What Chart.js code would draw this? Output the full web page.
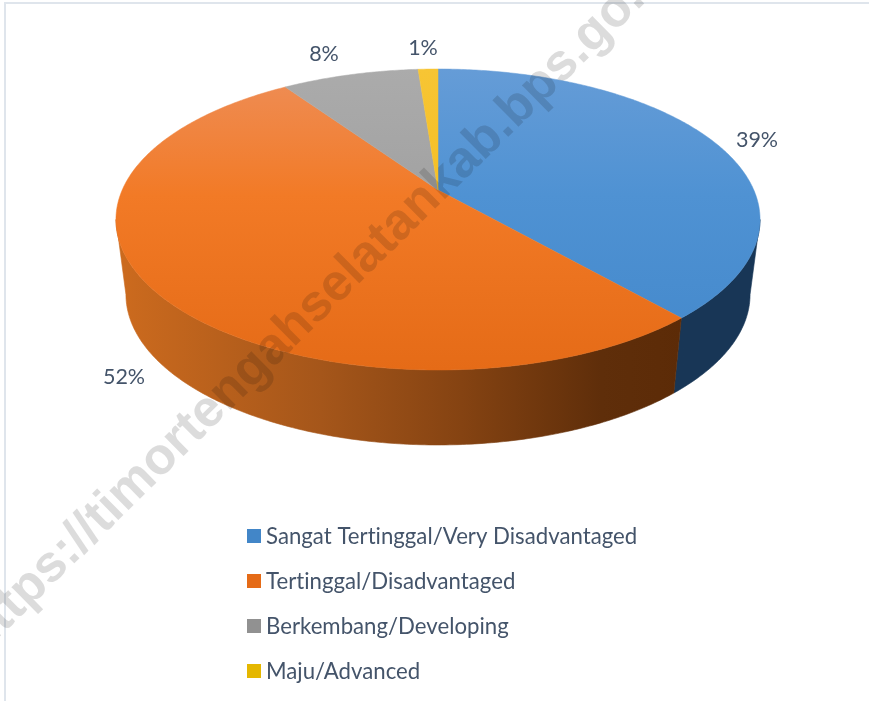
<!DOCTYPE html>
<html>
<head>
<meta charset="utf-8">
<style>
  html, body { margin: 0; padding: 0; background: #fff; }
  canvas { display: block; }
</style>
<script src="https://cdn.jsdelivr.net/npm/chart.js@4"></script>
</head>
<body>
<canvas id="pieChart" width="869" height="701"></canvas>
<script>
const categories = [
  "Sangat Tertinggal/Very Disadvantaged",
  "Tertinggal/Disadvantaged",
  "Berkembang/Developing",
  "Maju/Advanced"
];
const shares = [38.6, 51.9, 8.3, 1.2];

const legendColors = ["#4286c8", "#e56b17", "#919191", "#e5b700"];
const topStops = [
  ["#659cd7", "#4f92d3", "#4388cb"],
  ["#ee8e58", "#f27a26", "#e56b17"],
  ["#ababab", "#a2a2a2", "#9a9a9a"],
  ["#f7c534", "#f5bf25", "#f0b910"]
];
const wallStops = [
  [[0, "#1b3f63"], [1, "#183656"]],
  [[0, "#cb6a1e"], [0.35, "#a5561a"], [0.6, "#854312"], [0.85, "#5f2e0a"], [1, "#5c2b07"]],
  [[0, "#666666"], [1, "#666666"]],
  [[0, "#a57f00"], [1, "#a57f00"]]
];
const labelPlaces = [[757, 140], [124, 377], [324, 54], [423, 48]];
const legendRows = [536, 581, 626, 671];

// perspective of the tilted disc, fitted to the picture
const CX = 438, CY = 190, KV = 0.196, AX = 315.8, BY = 144.7;
const DEPTH = 75, BOTTOM_SCALE = 0.969;

function project(angle, lower) {
  const u = Math.cos(angle), v = Math.sin(angle), d = 1 - KV * v;
  return {
    x: CX + (lower ? AX * BOTTOM_SCALE : AX) * u / d,
    y: CY + (lower ? DEPTH : 0) + BY * v / d
  };
}

function traceArc(ctx, from, to, lower, first) {
  const steps = Math.max(2, Math.ceil(Math.abs(to - from) * 90));
  for (let i = 0; i <= steps; i++) {
    const p = project(from + (to - from) * i / steps, lower);
    if (i === 0 && first) ctx.moveTo(p.x, p.y);
    else ctx.lineTo(p.x, p.y);
  }
}

// the side wall shows between the two silhouette points of the disc
function drawWalls(ctx, arcs) {
  const right = Math.asin(KV), left = Math.PI - right;
  arcs.forEach(function (arc, i) {
    const from = Math.max(arc.startAngle, right), to = Math.min(arc.endAngle, left);
    if (to <= from) return;
    const g = ctx.createLinearGradient(125, 0, 685, 0);
    wallStops[i].forEach(function (s) { g.addColorStop(s[0], s[1]); });
    ctx.beginPath();
    traceArc(ctx, from, to, false, true);
    traceArc(ctx, to, from, true, false);
    ctx.closePath();
    ctx.fillStyle = g;
    ctx.fill();
    ctx.strokeStyle = g;
    ctx.lineWidth = 0.6;
    ctx.stroke();
  });
}

function drawTop(ctx, arcs) {
  arcs.forEach(function (arc, i) {
    const g = ctx.createLinearGradient(0, 69, 0, 370);
    g.addColorStop(0, topStops[i][0]);
    g.addColorStop(0.42, topStops[i][1]);
    g.addColorStop(1, topStops[i][2]);
    ctx.beginPath();
    ctx.moveTo(CX, CY);
    traceArc(ctx, arc.startAngle, arc.endAngle, false, false);
    ctx.closePath();
    ctx.fillStyle = g;
    ctx.fill();
    ctx.strokeStyle = g;
    ctx.lineWidth = 0.5;
    ctx.stroke();
  });
}

const tiltedPie = {
  id: "tiltedPie",
  beforeDraw(chart) {
    const ctx = chart.ctx;
    ctx.save();
    ctx.fillStyle = "#ffffff";
    ctx.fillRect(0, 0, chart.width, chart.height);
    ctx.strokeStyle = "#dfe5ec";
    ctx.lineWidth = 2;
    ctx.beginPath();
    ctx.moveTo(5, 701);
    ctx.lineTo(5, 3);
    ctx.lineTo(869, 3);
    ctx.stroke();
    ctx.restore();
  },
  beforeDatasetDraw(chart, args) {
    const ctx = chart.ctx;
    const arcs = args.meta.data;
    ctx.save();
    drawWalls(ctx, arcs);
    drawTop(ctx, arcs);
    ctx.restore();
    return false;
  },
  afterDraw(chart) {
    const ctx = chart.ctx;
    const values = chart.data.datasets[0].data;
    ctx.save();
    ctx.fillStyle = "#44546a";
    ctx.textBaseline = "middle";
    ctx.letterSpacing = "0.01px";
    ctx.font = "21.5px Lato";
    ctx.textAlign = "center";
    values.forEach(function (v, i) {
      ctx.fillText(Math.round(v) + "%", labelPlaces[i][0], labelPlaces[i][1]);
    });
    ctx.textAlign = "left";
    ctx.font = "22.2px Lato";
    chart.data.labels.forEach(function (name, i) {
      ctx.fillStyle = legendColors[i];
      ctx.fillRect(247, legendRows[i] - 7, 14, 14);
      ctx.fillStyle = "#44546a";
      ctx.fillText(name, 266, legendRows[i] + 0.5);
    });
    // site watermark lies over everything
    ctx.translate(-19, 655);
    ctx.rotate(-44.5 * Math.PI / 180);
    ctx.globalCompositeOperation = "multiply";
    ctx.fillStyle = "#dcdcdc";
    ctx.font = "bold 51.5px 'Liberation Sans'";
    ctx.textAlign = "left";
    ctx.textBaseline = "alphabetic";
    ctx.fillText("https://timortengahselatankab.bps.go.id", 0, 0);
    ctx.restore();
  }
};

new Chart(document.getElementById("pieChart"), {
  type: "pie",
  data: {
    labels: categories,
    datasets: [{ data: shares, backgroundColor: legendColors, borderWidth: 0 }]
  },
  options: {
    responsive: false,
    animation: false,
    plugins: {
      legend: { display: false },
      tooltip: { enabled: false }
    }
  },
  plugins: [tiltedPie]
});
</script>
</body>
</html>
